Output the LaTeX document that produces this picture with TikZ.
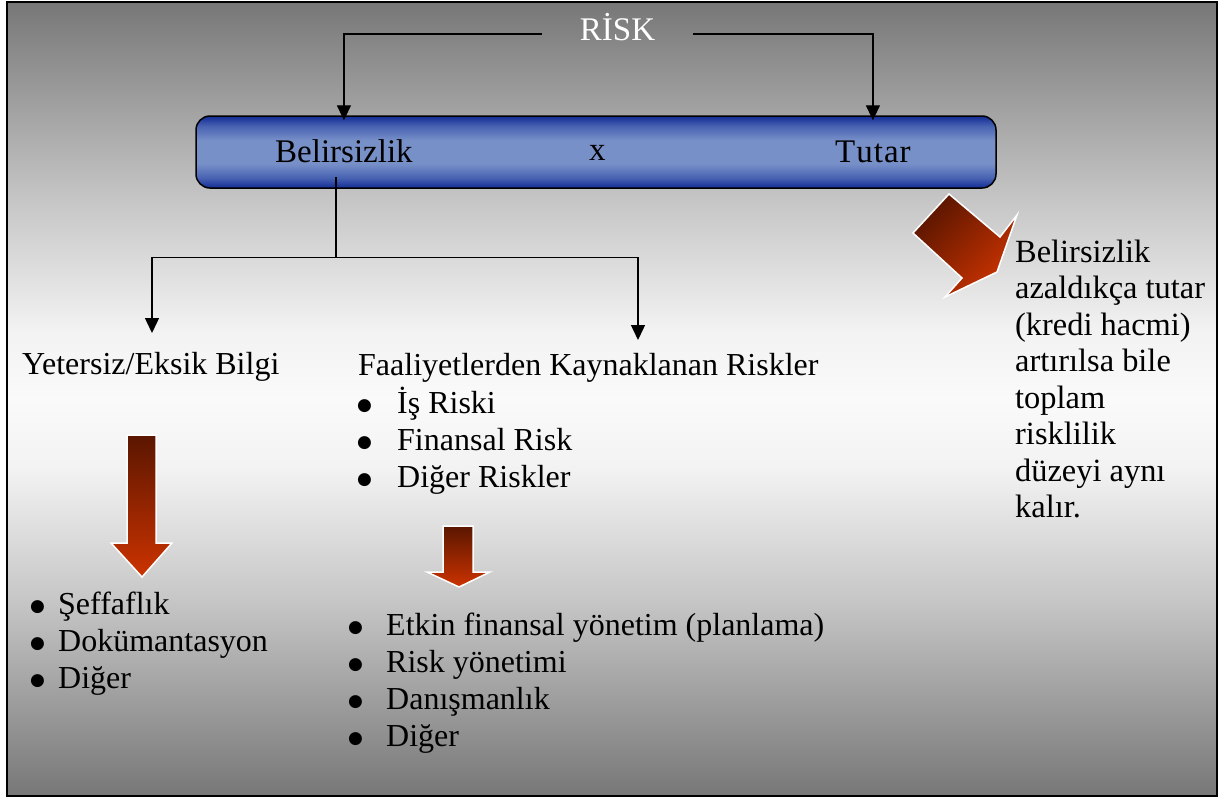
\documentclass[tikz,border=0pt]{standalone}
\usepackage{fontspec}
\setmainfont{Liberation Serif}
\newfontfamily\symfont{DejaVu Sans}
\usetikzlibrary{arrows.meta}

\definecolor{bgdark}{HTML}{777777}
\definecolor{bgmid}{HTML}{C6C6C6}
\definecolor{bglight}{HTML}{F2F2F2}
\definecolor{bgwhite}{HTML}{FAFAFA}
\definecolor{bdark}{HTML}{122C96}
\definecolor{bmid}{HTML}{4862B2}
\definecolor{blight}{HTML}{7890C8}
\definecolor{adark}{HTML}{5A1600}
\definecolor{ared}{HTML}{CC3300}

% page background: grey at the edges, almost white in the middle
\pgfdeclareverticalshading{pagebg}{100bp}{%
  color(0bp)=(bgdark); color(25bp)=(bgdark); color(37.3bp)=(bgmid);
  color(45.5bp)=(bglight); color(50bp)=(bgwhite); color(54.4bp)=(bglight);
  color(62.5bp)=(bgmid); color(75bp)=(bgdark); color(100bp)=(bgdark)}
% the blue bar: dark rims, light centre
\pgfdeclareverticalshading{barblue}{100bp}{%
  color(0bp)=(bdark); color(25bp)=(bdark); color(32bp)=(bmid);
  color(42bp)=(blight); color(58bp)=(blight); color(68bp)=(bmid);
  color(75bp)=(bdark); color(100bp)=(bdark)}

\tikzset{
  txt/.style={inner sep=0pt, anchor=base west, font=\fontsize{32}{37}\selectfont},
  bartxt/.style={txt, font=\fontsize{33}{37}\selectfont},
  conn/.style={draw=black, line width=1.4pt},
  tip/.style={-{Triangle[width=14pt,length=15pt]}},
  blockarrow/.style={draw=white, line width=1.5pt, line join=miter},
}
% list item: a round bullet in a box of the given width, then the text
\newcommand{\bul}[2]{\makebox[#1][l]{\hspace{-2pt}\raisebox{3pt}{\symfont\fontsize{17}{17}\selectfont ●}}#2}

\begin{document}
\begin{tikzpicture}[x=1pt,y=-1pt]
  \fill[white] (0,0) rectangle (1219,798);
  \useasboundingbox (0,0) rectangle (1219,798);
  \shadedraw[shading=pagebg, draw=black, line width=2pt] (7,2) rectangle (1217,796);

  % top bar
  \node[draw=black, line width=1.5pt, rounded corners=14pt, shading=barblue,
        minimum width=800pt, minimum height=72pt, inner sep=0pt] (bar) at (596,152) {};
  \node[bartxt] (belir) at (275,162) {Belirsizlik};
  \node[bartxt] (times) at (589,160) {x};
  \node[bartxt] (tutar) at (835,162) {T\kern1pt u\kern1pt t\kern1pt a\kern1pt r};

  % title
  \node[inner sep=0pt, inner xsep=38pt, text height=23pt, text depth=11pt,
        font=\fontsize{33}{37}\selectfont, text=white] (risk) at (617.5,34) {RİSK};

  \draw[conn, tip] (risk.west) -| ([yshift=-5pt]bar.north -| belir.north);
  \draw[conn, tip] (risk.east) -| ([yshift=-5pt]bar.north -| tutar.north);

  % branches below the bar
  \coordinate (stem) at (336,177);
  \coordinate (fork) at (336,257.5);
  \coordinate (tipL) at (152,333);
  \coordinate (tipR) at (638,340);
  \draw[conn] (stem) -- (fork);
  \draw[conn, tip] (fork) -| (tipL);
  \draw[conn, tip] (fork) -| (tipR);

  % headings and lists
  \node[txt] (yet) at (22,374) {Yetersiz/Eksik Bilgi};
  \node[txt] (faal) at (358,375) {Faaliyetlerden Kaynaklanan Riskler};
  \node[txt] (faallist) at (359,413) {\begin{tabular}[t]{@{}l@{}}
      \bul{38pt}{İş Riski}\\ \bul{38pt}{Finansal Risk}\\ \bul{38pt}{Diğer Riskler}\end{tabular}};
  \node[txt] (leftlist) at (32,614) {\begin{tabular}[t]{@{}l@{}}
      \bul{26pt}{Şeffaflık}\\ \bul{26pt}{Dokümantasyon}\\ \bul{26pt}{Diğer}\end{tabular}};
  \node[txt] (midlist) at (350,635) {\begin{tabular}[t]{@{}l@{}}
      \bul{36pt}{Etkin finansal yönetim (planlama)}\\ \bul{36pt}{Risk yönetimi}\\
      \bul{36pt}{Danışmanlık}\\ \bul{36pt}{Diğer}\end{tabular}};
  \node[txt, font=\fontsize{32.4}{36.5}\selectfont] (note) at (1015,262) {\begin{tabular}[t]{@{}l@{}}
      Belirsizlik\\ azaldıkça tutar\\ (kredi hacmi)\\ artırılsa bile\\ toplam\\
      risklilik\\ düzeyi aynı\\ kalır.\end{tabular}};

  % block arrows
  \path[blockarrow, top color=adark, bottom color=ared]
    (127,435) -- (156,435) -- (156,543) -- (172,543) -- (142,577) -- (111,543) -- (127,543) -- cycle;
  \path[blockarrow, top color=adark, bottom color=ared]
    (443,526) -- (473,526) -- (473,572) -- (490,572) -- (459,587) -- (427,572) -- (443,572) -- cycle;
  \path[blockarrow, top color=adark, bottom color=ared, shading angle=45]
    (949,194) -- (1000,237) -- (1017,215) -- (997,272) -- (945,297) -- (962,278) -- (913,233) -- cycle;
\end{tikzpicture}
\end{document}
